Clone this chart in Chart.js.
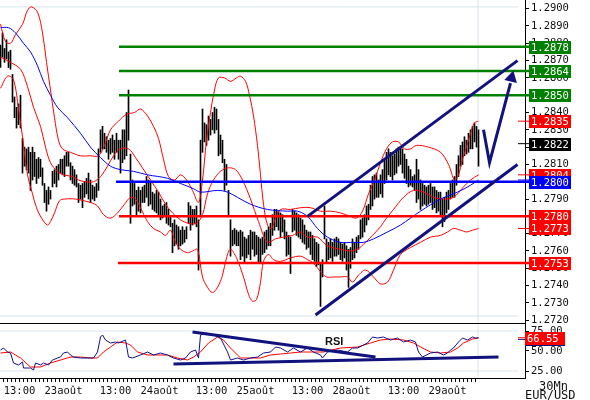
<!DOCTYPE html>
<html>
<head>
<meta charset="utf-8">
<script src="https://cdn.jsdelivr.net/npm/chart.js@4.4.1/dist/chart.umd.min.js"></script>
<style>
  body { margin: 0; background: #fff; }
  #wrap { position: relative; width: 590px; height: 400px; overflow: hidden; font-family: "DejaVu Sans Mono", monospace; }
  canvas { position: absolute; left: 0; }
  .note { position: absolute; color: #111; white-space: nowrap; line-height: 1; }
</style>
</head>
<body>
<div id="wrap">
  <canvas id="price" width="590" height="323" style="top:0"></canvas>
  <canvas id="rsi" width="590" height="77" style="top:323px"></canvas>
  <div style="position:absolute;left:0;top:323px;width:525px;height:1px;background:#000"></div>
  <div class="note" style="left:325px;top:335px;font:bold 11px 'Liberation Sans', Arial, sans-serif;">RSI</div>
  <div class="note" style="left:539px;top:380px;font-size:12px">30Mn</div>
  <div class="note" style="left:525px;top:389px;font-size:12px">EUR/USD</div>
</div>
<script>
// 30 minute bars, 22 -> 29 Aug (index 0 = first bar on the left)
const barHigh = [
  1.2879,1.2886,1.2877,1.2882,1.2875,1.2876,1.2862,1.2849,1.2843,1.2845,
  1.2850,1.2825,1.2820,1.2819,1.2820,1.2817,1.2820,1.2817,1.2813,1.2814,
  1.2813,1.2808,1.2799,1.2795,1.2797,1.2795,1.2806,1.2807,1.2809,1.2810,
  1.2813,1.2813,1.2815,1.2817,1.2817,1.2811,1.2809,1.2807,1.2804,1.2799,
  1.2798,1.2799,1.2800,1.2802,1.2805,1.2801,1.2798,1.2797,1.2799,1.2819,
  1.2830,1.2832,1.2828,1.2826,1.2824,1.2825,1.2827,1.2824,1.2828,1.2824,
  1.2824,1.2830,1.2830,1.2840,1.2853,1.2816,1.2801,1.2799,1.2795,1.2797,
  1.2795,1.2797,1.2798,1.2803,1.2801,1.2800,1.2794,1.2793,1.2795,1.2794,
  1.2790,1.2786,1.2787,1.2788,1.2784,1.2780,1.2776,1.2778,1.2775,1.2774,
  1.2772,1.2774,1.2772,1.2774,1.2788,1.2786,1.2784,1.2784,1.2786,1.2778,
  1.2824,1.2842,1.2834,1.2833,1.2838,1.2836,1.2840,1.2843,1.2842,1.2836,
  1.2827,1.2824,1.2813,1.2810,1.2795,1.2778,1.2772,1.2773,1.2772,1.2771,
  1.2772,1.2771,1.2768,1.2767,1.2769,1.2772,1.2771,1.2771,1.2769,1.2768,
  1.2767,1.2768,1.2771,1.2772,1.2774,1.2776,1.2781,1.2784,1.2784,1.2783,
  1.2782,1.2781,1.2778,1.2771,1.2769,1.2768,1.2784,1.2783,1.2782,1.2781,
  1.2779,1.2778,1.2775,1.2772,1.2771,1.2771,1.2769,1.2767,1.2765,1.2764,
  1.2753,1.2755,1.2786,1.2767,1.2765,1.2767,1.2765,1.2767,1.2768,1.2767,
  1.2765,1.2764,1.2765,1.2763,1.2761,1.2762,1.2767,1.2765,1.2768,1.2769,
  1.2778,1.2779,1.2781,1.2786,1.2787,1.2798,1.2803,1.2804,1.2805,1.2801,
  1.2804,1.2807,1.2813,1.2817,1.2819,1.2817,1.2815,1.2816,1.2819,1.2820,
  1.2820,1.2819,1.2816,1.2813,1.2809,1.2807,1.2803,1.2804,1.2813,1.2807,
  1.2801,1.2799,1.2798,1.2797,1.2798,1.2799,1.2797,1.2797,1.2795,1.2794,
  1.2794,1.2790,1.2791,1.2794,1.2795,1.2799,1.2801,1.2803,1.2810,1.2815,
  1.2821,1.2823,1.2826,1.2824,1.2828,1.2830,1.2832,1.2834,1.2832,1.2830
];
const barLow = [
  1.2866,1.2872,1.2869,1.2871,1.2866,1.2865,1.2846,1.2837,1.2831,1.2833,
  1.2831,1.2805,1.2809,1.2807,1.2805,1.2795,1.2801,1.2803,1.2799,1.2802,
  1.2803,1.2798,1.2788,1.2783,1.2787,1.2790,1.2797,1.2799,1.2797,1.2801,
  1.2805,1.2804,1.2803,1.2809,1.2809,1.2801,1.2799,1.2798,1.2797,1.2788,
  1.2790,1.2785,1.2791,1.2793,1.2790,1.2788,1.2790,1.2789,1.2791,1.2795,
  1.2817,1.2819,1.2819,1.2817,1.2813,1.2816,1.2817,1.2813,1.2817,1.2813,
  1.2805,1.2811,1.2813,1.2815,1.2824,1.2776,1.2786,1.2787,1.2780,1.2783,
  1.2782,1.2788,1.2788,1.2791,1.2786,1.2787,1.2784,1.2783,1.2782,1.2781,
  1.2778,1.2779,1.2781,1.2776,1.2775,1.2774,1.2759,1.2763,1.2764,1.2761,
  1.2763,1.2764,1.2765,1.2767,1.2776,1.2772,1.2775,1.2776,1.2774,1.2749,
  1.2781,1.2817,1.2823,1.2821,1.2824,1.2827,1.2830,1.2828,1.2830,1.2815,
  1.2816,1.2811,1.2795,1.2798,1.2780,1.2757,1.2763,1.2764,1.2763,1.2763,
  1.2755,1.2757,1.2753,1.2756,1.2758,1.2755,1.2761,1.2757,1.2758,1.2753,
  1.2753,1.2758,1.2759,1.2761,1.2763,1.2763,1.2769,1.2772,1.2774,1.2772,
  1.2768,1.2771,1.2767,1.2757,1.2758,1.2747,1.2771,1.2772,1.2769,1.2768,
  1.2767,1.2765,1.2764,1.2761,1.2762,1.2758,1.2755,1.2754,1.2751,1.2752,
  1.2728,1.2745,1.2767,1.2753,1.2755,1.2756,1.2754,1.2757,1.2757,1.2758,
  1.2755,1.2754,1.2756,1.2749,1.2739,1.2750,1.2755,1.2756,1.2759,1.2761,
  1.2767,1.2768,1.2771,1.2775,1.2778,1.2784,1.2786,1.2790,1.2791,1.2791,
  1.2793,1.2791,1.2799,1.2801,1.2804,1.2803,1.2801,1.2804,1.2805,1.2809,
  1.2810,1.2805,1.2802,1.2799,1.2797,1.2798,1.2797,1.2795,1.2788,1.2790,
  1.2784,1.2786,1.2787,1.2786,1.2787,1.2788,1.2784,1.2785,1.2782,1.2783,
  1.2780,1.2774,1.2777,1.2782,1.2784,1.2790,1.2791,1.2791,1.2798,1.2803,
  1.2809,1.2810,1.2815,1.2816,1.2817,1.2819,1.2819,1.2823,1.2820,1.2809
];

// Bollinger bands and moving average, [bar index, price]
const upperBand = [[0,1.2891],[2.5,1.2881],[5,1.2880],[7.5,1.2885],[11,1.2891],[13.5,1.2899],[15.5,1.2901],[18.5,1.2898],[21,1.2886],[23,1.2869],
  [25,1.2853],[27,1.2837],[29,1.2824],[31,1.2819],[35,1.2817],[40,1.2815],[45,1.2815],[49,1.2815],[52,1.2821],[55,1.2830],
  [59,1.2835],[63,1.2839],[67,1.2840],[70,1.2842],[73.5,1.2838],[76.5,1.2832],[79,1.2825],[81.5,1.2813],[84,1.2803],[87,1.2801],
  [90,1.2804],[93,1.2801],[96,1.2795],[99,1.2788],[101,1.2801],[103,1.2824],[105,1.2840],[107,1.2853],[109,1.2860],[112,1.2860],
  [115,1.2858],[118,1.2860],[120,1.2861],[122.5,1.2858],[124.5,1.2850],[126.5,1.2838],[128.5,1.2821],[130,1.2804],[131.5,1.2787],[133.5,1.2775],
  [135.5,1.2773],[137.5,1.2779],[140,1.2784],[145,1.2784],[150,1.2785],[155,1.2785],[160,1.2783],[165,1.2783],[170,1.2782],[175,1.2780],
  [178,1.2779],[181,1.2783],[184,1.2793],[187,1.2801],[190,1.2811],[193,1.2819],[196,1.2823],[199,1.2823],[202,1.2819],[205,1.2819],
  [208,1.2821],[214,1.2820],[220,1.2817],[224,1.2810],[227,1.2801],[229,1.2804],[231,1.2813],[233,1.2820],[235,1.2828],[237,1.2834],[239,1.2835]];
const middleBand = [[0,1.2872],[5,1.2869],[10,1.2865],[13.5,1.2855],[16.5,1.2843],[20,1.2832],[22.5,1.2820],[25,1.2811],[28.5,1.2806],[31.5,1.2804],
  [36,1.2803],[39,1.2801],[42.5,1.2800],[46.5,1.2800],[50,1.2803],[53.5,1.2809],[56.5,1.2815],[60,1.2819],[64,1.2819],[67.5,1.2814],
  [71,1.2808],[75,1.2801],[79,1.2794],[82.5,1.2787],[86,1.2782],[90,1.2778],[94,1.2776],[98,1.2776],[101,1.2781],[103.5,1.2793],
  [106.5,1.2801],[110,1.2806],[113.5,1.2808],[117.5,1.2807],[121,1.2801],[125,1.2790],[129,1.2777],[133.5,1.2765],[137.5,1.2767],[141.5,1.2768],
  [146,1.2769],[150,1.2771],[153.5,1.2768],[158.5,1.2768],[163.5,1.2763],[170,1.2761],[175,1.2760],[178.5,1.2761],[182.5,1.2765],[186,1.2769],
  [190,1.2774],[193,1.2779],[196.5,1.2784],[201.5,1.2791],[206.5,1.2795],[211.5,1.2794],[216.5,1.2791],[221.5,1.2790],[226.5,1.2791],[231.5,1.2797],
  [235,1.2801],[239,1.2804]];
const lowerBand = [[0,1.2854],[3.5,1.2861],[6.5,1.2859],[9,1.2842],[11,1.2826],[13.5,1.2804],[16,1.2793],[18,1.2785],[20.5,1.2779],[23.5,1.2775],
  [25,1.2777],[27,1.2782],[29.5,1.2789],[32,1.2790],[37.5,1.2790],[45,1.2788],[48.5,1.2786],[51.5,1.2781],[55,1.2779],[58.5,1.2782],
  [62,1.2787],[65,1.2791],[67.5,1.2790],[70,1.2785],[73.5,1.2777],[76.5,1.2773],[80,1.2771],[82.5,1.2769],[85,1.2772],[87.5,1.2765],
  [90,1.2761],[93.5,1.2759],[96,1.2760],[98.5,1.2761],[101,1.2745],[103.5,1.2739],[106,1.2736],[108.5,1.2739],[111,1.2746],[113,1.2756],
  [115,1.2761],[118,1.2756],[121.5,1.2745],[124,1.2735],[126,1.2731],[128,1.2732],[130,1.2742],[131.5,1.2754],[134,1.2758],[136.5,1.2755],
  [140,1.2754],[145,1.2756],[150,1.2757],[153.5,1.2755],[156.5,1.2753],[160,1.2748],[163,1.2745],[166.5,1.2745],[170,1.2745],[173.5,1.2745],
  [176,1.2742],[179,1.2746],[182.5,1.2749],[186.5,1.2745],[190,1.2741],[193.5,1.2742],[196.5,1.2749],[200,1.2758],[205,1.2762],[210,1.2765],
  [215,1.2768],[220,1.2769],[223.5,1.2771],[226.5,1.2773],[230,1.2772],[233,1.2771],[236,1.2772],[239,1.2773]];
const movingAvg = [[0,1.2889],[4,1.2889],[7.5,1.2886],[11.5,1.2880],[15,1.2875],[18.5,1.2867],[21.5,1.2858],[25,1.2850],[28.5,1.2843],[33.5,1.2837],
  [40,1.2828],[45,1.2820],[50,1.2814],[55,1.2809],[60,1.2807],[66.5,1.2806],[73.5,1.2804],[83.5,1.2802],[90,1.2799],[96.5,1.2796],
  [100,1.2794],[108.5,1.2795],[113.5,1.2794],[118.5,1.2791],[125,1.2787],[133.5,1.2784],[143.5,1.2783],[148.5,1.2783],[153.5,1.2780],[158.5,1.2773],
  [163.5,1.2768],[170,1.2765],[176.5,1.2765],[181.5,1.2765],[186.5,1.2767],[193.5,1.2771],[200,1.2775],[210,1.2783],[220,1.2790],[228.5,1.2794],
  [235,1.2798],[239,1.2801]];

// RSI and its average
const rsiLine = [[0,51.25],[1.5,53.75],[3.5,48.75],[5,47.5],[6.5,35],[9,32.5],[11,36.25],[11.5,28.75],[15,28.75],[16.5,26.25],
  [17.5,35],[20,32.5],[21.5,35],[24,32.5],[26,38.75],[28.5,41.25],[30,42.5],[31.5,47.5],[33.5,48.75],[35,45],
  [36.5,42.5],[40,41.25],[43.5,41.25],[46.5,41.25],[48.5,48.75],[50,67.5],[51,70],[52.5,63.75],[55,60],[57.5,61.25],
  [59,60],[62.5,63.75],[64,42.5],[66,41.25],[70,45],[73.5,48.75],[76.5,45],[80,47.5],[83.5,45],[86.5,41.25],
  [90,38.75],[92.5,41.25],[95,48.75],[97.5,51.25],[99,41.25],[100,70],[102.5,72.5],[106.5,70],[110,66.25],[113.5,48.75],
  [115,38.75],[118.5,41.25],[121.5,38.75],[125,41.25],[128.5,42.5],[131.5,47.5],[135,48.75],[137.5,55],[140,53.75],[143.5,48.75],
  [146.5,53.75],[150,48.75],[153.5,53.75],[156.5,48.75],[160,45],[161,41.25],[163.5,48.75],[168.5,51.25],[173.5,48.75],[176,53.75],
  [178.5,53.75],[183.5,60],[186,67.5],[188.5,66.25],[191.5,67.5],[195,63.75],[198.5,66.25],[201.5,61.25],[205,63.75],[207.5,61.25],
  [209,48.75],[211,42.5],[215,47.5],[218.5,48.75],[221.5,45],[223.5,47.5],[225,51.25],[226.5,53.75],[229,61.25],[231,66.25],
  [233.5,63.75],[236,67.5],[237.5,66.25],[239,66.55]];
const rsiAvg = [[0,47.5],[5,48.75],[10,41.25],[15,30],[20,30],[25,35],[30,38.75],[35,42.5],[40,42.5],[45,41.25],
  [48.5,41.25],[51.5,48.75],[55,55],[58.5,61.25],[62.5,60],[65,57.5],[68.5,48.75],[73.5,45],[78.5,45],[83.5,45],
  [88.5,41.25],[93.5,38.75],[96.5,42.5],[100,48.75],[104,60],[108.5,67.5],[111.5,63.75],[115,53.75],[120,41.25],[125,41.25],
  [130,41.25],[135,45],[140,46.25],[145,47.5],[150,48.75],[153.5,48.75],[161.5,48.75],[170,53.75],[178.5,55],[185,60],
  [190,63.75],[195,65],[201.5,63.75],[206.5,60],[211,53.75],[215,48.75],[220,47.5],[225,48.75],[228.5,53.75],[231.5,60],
  [236,65],[239,66.25]];

// hand drawn analysis
const levelValues = [1.2878, 1.2864, 1.2850, 1.2800, 1.2780, 1.2753];
const levelStart = [59.25, 59.25, 59.25, 57.75, 59.25, 58.75];
const levelColors = ['#008000', '#008000', '#008000', '#0000ff', '#ff0000', '#ff0000'];
const markValues = [1.2835, 1.2822, 1.2804, 1.2801, 1.2773];
const markColors = ['#ff0000', '#000000', '#ff0000', '#0000ff', '#ff0000'];
const boxValues = [1.2878, 1.2864, 1.2850, 1.2835, 1.2822, 1.2804, 1.2800, 1.2780, 1.2773, 1.2753];
const boxColors = ['#008000', '#008000', '#008000', '#ff0000', '#000000', '#ff0000', '#0000ff', '#ff0000', '#ff0000', '#ff0000'];
const channelUpper = [[153.5, 1.2780], [258.5, 1.2870]];
const channelLower = [[157.5, 1.2723], [258.5, 1.2810]];
const arrowPath = [[241.5, 1.2830], [244.5, 1.2811], [255, 1.2857]];
const arrowTip = [[255.5, 1.2860]];
const rsiTrendA = [[96, 73.75], [187.5, 42.5]];
const rsiTrendB = [[86.5, 33.75], [249, 42.5]];
const rsiLast = 66.55;
const rsiBlueLast = 64.5;

// axes
const priceTicks = [1.2720, 1.2730, 1.2740, 1.2750, 1.2760, 1.2770, 1.2780, 1.2790, 1.2800, 1.2810,
  1.2820, 1.2830, 1.2840, 1.2850, 1.2860, 1.2870, 1.2880, 1.2890, 1.2900];
const rsiTicks = [25, 50, 75];
const timeTickPos = [9.5, 31.5, 57.5, 79.5, 105.5, 127.5, 153.5, 175.5, 201.5, 223.5];
const timeTickLabels = ['13:00', '23août', '13:00', '24août', '13:00', '25août', '13:00', '28août', '13:00', '29août'];

const X_MIN = -0.25, X_MAX = 262.25, X_END = 264.25, FRAME_END = 258.75, NOW = 238.75;
const NAVY = '#12127f', FRAME = '#d9e5eb';
const FONT = { family: '"DejaVu Sans Mono", monospace', size: 10.5 };

Chart.defaults.font.family = FONT.family;
Chart.defaults.font.size = FONT.size;
Chart.defaults.color = '#111';

const pts = arr => arr.map(([x, y]) => ({ x, y }));
const flat = (v, a, b) => [{ x: a, y: v }, { x: b, y: v }];
const line = (data, color, width, order, extra) => Object.assign({
  type: 'line', data, borderColor: color, borderWidth: width, pointRadius: 0, fill: false, order
}, extra || {});
const overflow = { clip: { left: 0, top: 0, right: 5, bottom: 0 } };

// keep the plot area full height: no room reserved for the edge tick labels
const sideAxisFit = s => {
  s.width = 65;
  s.paddingTop = 0;
  s.paddingBottom = 0;
};

const boxPlugin = {
  id: 'boxes',
  afterDraw(chart, args, opts) {
    const ctx = chart.ctx, y = chart.scales.y;
    ctx.save();
    ctx.font = '10.5px "DejaVu Sans Mono", monospace';
    ctx.textBaseline = 'middle';
    opts.items.forEach(it => {
      const py = Math.round(y.getPixelForValue(it.value));
      ctx.fillStyle = it.color;
      ctx.fillRect(opts.left, py - 6, opts.width, 13);
      if (it.label) {
        ctx.fillStyle = '#fff';
        ctx.fillText(it.value.toFixed(opts.digits), opts.left + 2, py + 1);
      }
    });
    ctx.restore();
  }
};

// price panel
const priceSets = [
  line(flat(1.2901, X_MIN, FRAME_END), FRAME, 1, 30),
  line(flat(1.27224, X_MIN, FRAME_END), FRAME, 1, 30),
  line([{ x: NOW, y: 1.27184 }, { x: NOW, y: 1.2905 }], FRAME, 1, 30),
  {
    type: 'bar', order: 20, backgroundColor: '#000', borderWidth: 0, barThickness: 1,
    data: barHigh.map((h, i) => ({ x: i, y: [barLow[i], h] }))
  },
  line(pts(upperBand), '#ff0000', 1, 12, { tension: 0.35 }),
  line(pts(middleBand), '#ff0000', 1, 12, { tension: 0.35 }),
  line(pts(lowerBand), '#ff0000', 1, 12, { tension: 0.35 }),
  line(pts(movingAvg), '#0000ff', 1, 11, { tension: 0.35 }),
];
levelValues.forEach((v, i) => priceSets.push(line(flat(v, levelStart[i], X_END), levelColors[i], 2.5, 6, overflow)));
markValues.forEach((v, i) => priceSets.push(line(flat(v, FRAME_END, X_END), markColors[i], 1, 5, overflow)));
priceSets.push(line(pts(channelUpper), NAVY, 3, 3));
priceSets.push(line(pts(channelLower), NAVY, 3, 3));
priceSets.push(line(pts(arrowPath), NAVY, 3, 3));
priceSets.push(line(pts(arrowTip), NAVY, 0, 2, {
  showLine: false, pointRadius: 7.5, pointStyle: 'triangle', rotation: 14,
  pointBackgroundColor: NAVY, pointBorderWidth: 0
}));

new Chart(document.getElementById('price'), {
  type: 'bar',
  data: { datasets: priceSets },
  plugins: [boxPlugin],
  options: {
    responsive: false, animation: false, devicePixelRatio: 1,
    layout: { padding: 0, autoPadding: false },
    plugins: {
      legend: { display: false }, tooltip: { enabled: false },
      boxes: {
        left: 529, width: 42, digits: 4,
        items: boxValues.map((v, i) => ({ value: v, color: boxColors[i], label: true }))
      }
    },
    scales: {
      x: { type: 'linear', display: false, min: X_MIN, max: X_MAX, offset: false },
      y: {
        position: 'right', min: 1.27184, max: 1.2905,
        afterBuildTicks: s => {
          const t = [];
          priceTicks.forEach(v => { t.push({ value: v }); t.push({ value: v + 0.0005 }); });
          s.ticks = t.filter(k => k.value <= 1.2905);
        },
        afterFit: sideAxisFit,
        ticks: {
          padding: 2, color: '#111',
          callback: v => (Math.round(v * 10000) % 10 === 0 ? v.toFixed(4) : '')
        },
        grid: { drawOnChartArea: false, tickLength: 4, tickColor: '#000' },
        border: { color: '#000' }
      }
    }
  }
});

// RSI panel
const rsiSets = [
  line(flat(75, X_MIN, FRAME_END), FRAME, 1, 30),
  line(flat(25, X_MIN, FRAME_END), FRAME, 1, 30),
  line([{ x: NOW, y: 16.25 }, { x: NOW, y: 85 }], FRAME, 1, 30),
  line(pts(rsiAvg), '#ff0000', 1, 12),
  line(pts(rsiLine), '#10108a', 1, 11),
  line(pts(rsiTrendA), NAVY, 3, 3),
  line(pts(rsiTrendB), NAVY, 3, 3),
  line(flat(rsiLast, FRAME_END, X_MAX), '#ff0000', 1, 5),
  line(flat(rsiBlueLast, FRAME_END, X_MAX), NAVY, 1, 5)
];

new Chart(document.getElementById('rsi'), {
  type: 'line',
  data: { datasets: rsiSets },
  plugins: [boxPlugin],
  options: {
    responsive: false, animation: false, devicePixelRatio: 1,
    layout: { padding: 0, autoPadding: false },
    plugins: {
      legend: { display: false }, tooltip: { enabled: false },
      boxes: {
        left: 525, width: 40, digits: 2,
        items: [
          { value: rsiBlueLast, color: NAVY, label: false },
          { value: rsiLast, color: '#ff0000', label: true }
        ]
      }
    },
    scales: {
      x: {
        type: 'linear', min: X_MIN, max: X_MAX, offset: false,
        afterBuildTicks: s => {
          const t = [];
          for (let v = 1.5; v <= NOW; v += 2) t.push({ value: v });
          s.ticks = t;
        },
        afterFit: s => {
          s.height = 22;
          s.paddingLeft = 0;
          s.paddingRight = 0;
        },
        ticks: {
          autoSkip: false, maxRotation: 0, padding: 3, color: '#111',
          callback: v => {
            const k = timeTickPos.indexOf(v);
            return k >= 0 ? timeTickLabels[k] : '';
          }
        },
        grid: { drawOnChartArea: false, tickLength: 4, tickColor: '#000' },
        border: { color: '#000' }
      },
      y: {
        position: 'right', min: 16.25, max: 85,
        afterBuildTicks: s => { s.ticks = rsiTicks.map(v => ({ value: v })); },
        afterFit: sideAxisFit,
        ticks: { padding: 2, color: '#111', callback: v => v.toFixed(2) },
        grid: { drawOnChartArea: false, tickLength: 4, tickColor: '#000' },
        border: { color: '#000' }
      }
    }
  }
});
</script>
</body>
</html>
